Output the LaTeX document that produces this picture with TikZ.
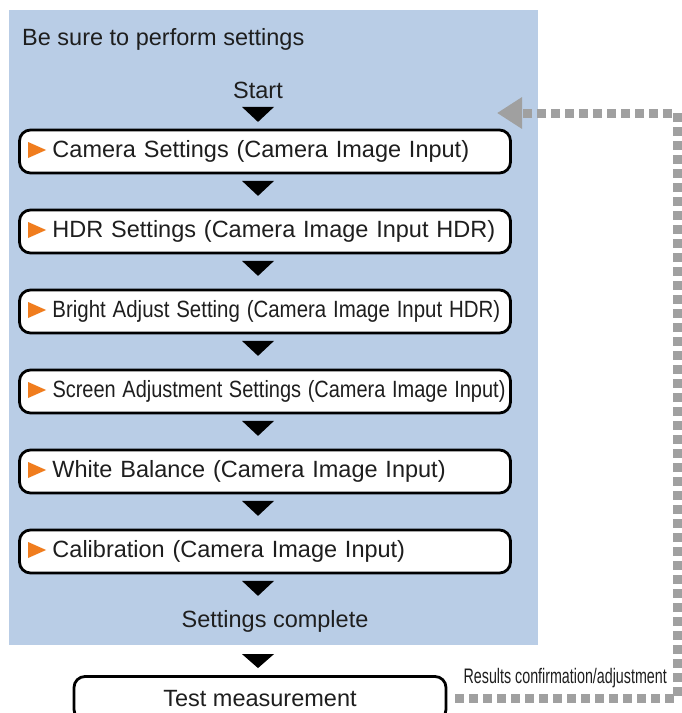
\documentclass[tikz,border=0pt]{standalone}
\usepackage{fontspec}
\setmainfont{Liberation Sans}
\usetikzlibrary{calc,arrows.meta}
\definecolor{panelblue}{RGB}{185,205,230}
\definecolor{stepmark}{RGB}{240,125,30}
\definecolor{loopgray}{RGB}{160,160,160}
\definecolor{inktext}{RGB}{30,30,30}

\begin{document}
\begin{tikzpicture}[x=1pt, y=-1pt,
    stepbox/.style={draw=black, line width=2.8pt, fill=white, rounded corners=11pt,
                    minimum height=43pt, text width=491pt, inner xsep=0pt, inner ysep=2pt,
                    align=left, execute at begin node={\hspace*{33pt}},
                    font=\fontsize{23.5}{28}\selectfont, text=inktext},
    endbox/.style={draw=black, line width=2.8pt, fill=white, rounded corners=11pt,
                   minimum height=44pt, minimum width=372pt, align=center,
                   font=\fontsize{23.5}{28}\selectfont, text=inktext},
    plain/.style={font=\fontsize{23.5}{28}\selectfont, text=inktext, inner sep=2pt},
    backloop/.style={loopgray, line width=9pt, dash pattern=on 9pt off 5pt}
]
\useasboundingbox (0,0) rectangle (682,713);
\clip (0,0) rectangle (682,713);

% settings panel
\fill[panelblue] (9,10) rectangle (538,645);
\node[plain, anchor=base west] (title) at (20,45) {Be sure to perform settings};

\coordinate (axis) at (258,0);
\node[plain, anchor=base] (start) at (258,98) {Start};

\node[stepbox] (cam)    at (265,151.5) {Camera Settings (Camera Image Input)};
\node[stepbox] (hdr)    at (265,231.5) {HDR Settings (Camera Image Input HDR)};
\node[stepbox] (bright) at (265,311.5) {\scalebox{0.87}[1]{Bright Adjust Setting (Camera Image Input HDR)}};
\node[stepbox] (screen) at (265,391.5) {\scalebox{0.85}[1]{Screen Adjustment Settings (Camera Image Input)}};
\node[stepbox] (white)  at (265,471.5) {White Balance (Camera Image Input)};
\node[stepbox] (calib)  at (265,551.5) {Calibration (Camera Image Input)};

\node[plain, anchor=base] (done) at (275,627) {Settings complete};
\node[endbox] (test) at (260,698.5) {Test measurement};

% orange markers
\foreach \b in {cam,hdr,bright,screen,white,calib}
  \fill[stepmark] ($(\b.west)+(10,-9.5)$) -- ++(18,8) -- ++(-18,8) -- cycle;

% flow triangles
\foreach \a in {start,cam,hdr,bright,screen,white,calib}
  \fill[black] ($(axis |- \a.south)+(-16,6.5)$) -- ++(32,0) -- ++(-16,15) -- cycle;
\fill[black] ($(axis |- done.south)+(-16,20)$) -- ++(32,0) -- ++(-16,14) -- cycle;

% feedback loop
\coordinate (loopcorner) at (677,113);
\coordinate (loopin) at (497,113);
\draw[backloop, -{Triangle[length=25pt,width=30pt]}, shorten <=8pt]
  (test.east) -- (test.east -| loopcorner) |- (loopin);
\node[anchor=base east, font=\fontsize{21}{24}\selectfont, text=inktext, inner sep=0pt]
  (looplabel) at (667,683) {\scalebox{0.68}[1]{Results confirmation/adjustment}};
\end{tikzpicture}
\end{document}
